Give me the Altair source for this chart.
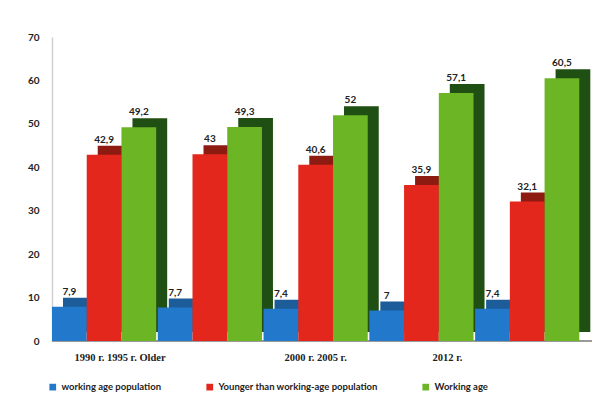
import altair as alt
import pandas as pd

years = ["1990", "1995", "2000", "2005", "2012"]
series = ["working age population", "Younger than working-age population", "Working age"]
older = [7.9, 7.7, 7.4, 7.0, 7.4]
younger = [42.9, 43.0, 40.6, 35.9, 32.1]
working = [49.2, 49.3, 52.0, 57.1, 60.5]
front_colors = ["#2279cc", "#e3271c", "#6cb524"]
side_colors = ["#1c5d99", "#8e1b12", "#1f4f12"]
y_ticks = [0, 10, 20, 30, 40, 50, 60, 70]
xlabel_text = ["1990 г. 1995 г. Older", "2000 г. 2005 г.", "2012 г."]
xlabel_year = ["1990", "2000", "2005"]
xlabel_dx = [16, 0, 26]

W, H = 540, 304
P_IN, P_OUT = 0.015, 0.06
STEP = W / (len(years) - P_IN + 2 * P_OUT)
BW = STEP * (1 - P_IN)
DEPTH_X, DEPTH_Y = 11, 9

rows = []
for i, yr in enumerate(years):
    for s, vals in zip(series, [older, younger, working]):
        rows.append({"year": yr, "series": s, "value": vals[i]})
df = pd.DataFrame(rows)

xenc = alt.X("year:N", sort=years,
             scale=alt.Scale(domain=years, paddingInner=P_IN, paddingOuter=P_OUT, align=0),
             axis=None)
xoff_front = alt.XOffset("series:N", sort=series,
                         scale=alt.Scale(domain=series, paddingInner=0, paddingOuter=0))
xoff_side = alt.XOffset("series:N", sort=series,
                        scale=alt.Scale(domain=series, range=[DEPTH_X, BW + DEPTH_X],
                                        paddingInner=0, paddingOuter=0))
yenc = alt.Y("value:Q", scale=alt.Scale(domain=[0, 70], nice=False),
             axis=alt.Axis(values=y_ticks, title=None, grid=False, ticks=False,
                           labelFont="Lato", labelFontWeight="bold", labelFontSize=10,
                           labelColor="#222222", labelPadding=13,
                           domainColor="#d0d0d0", domainWidth=1.5))

base = alt.Chart(df)

floor = base.mark_rule(color="#9a9a9a", size=2).encode(y=alt.datum(0))

shadow = base.mark_bar(yOffset=-DEPTH_Y).encode(
    x=xenc, xOffset=xoff_side, y=yenc,
    color=alt.Color("series:N", sort=series,
                    scale=alt.Scale(domain=series, range=side_colors), legend=None),
)

front = base.mark_bar().encode(
    x=xenc, xOffset=xoff_front, y=yenc,
    color=alt.Color("series:N", sort=series,
                    scale=alt.Scale(domain=series, range=front_colors),
                    legend=alt.Legend(orient="none", legendX=-4, legendY=345,
                                      direction="horizontal", title=None,
                                      symbolType="square", symbolSize=45,
                                      symbolStrokeWidth=0,
                                      labelFont="Lato", labelFontWeight="bold",
                                      labelFontSize=9.5, labelColor="#222222",
                                      columnPadding=43, labelOffset=4)),
)

labels = base.transform_calculate(
    lab="replace(toString(datum.value), '.', ',')"
).mark_text(dy=-10, baseline="bottom", font="Lato", fontWeight="bold",
            fontSize=10, color="#222222").encode(
    x=xenc, xOffset=xoff_front, y=yenc, text="lab:N"
)

xl_layers = []
for t, yr, dx in zip(xlabel_text, xlabel_year, xlabel_dx):
    d = pd.DataFrame({"year": [yr], "label": [t]})
    xl_layers.append(
        alt.Chart(d).mark_text(dx=dx, dy=17, baseline="middle", font="Liberation Serif",
                               fontWeight="bold", fontSize=10.5, color="#222222").encode(
            x=xenc, y=alt.datum(0), text="label:N")
    )

inner = alt.layer(front, labels, *xl_layers)

chart = alt.layer(floor, shadow, inner).resolve_scale(
    color="independent", xOffset="independent"
).properties(
    width=W, height=H,
    autosize=alt.AutoSizeParams(type="none"),
    padding={"left": 44, "top": 29, "right": 9, "bottom": 57},
    background="white",
).configure_view(stroke=None)

chart.save("out.html", embed_options={"renderer": "svg", "actions": False})
